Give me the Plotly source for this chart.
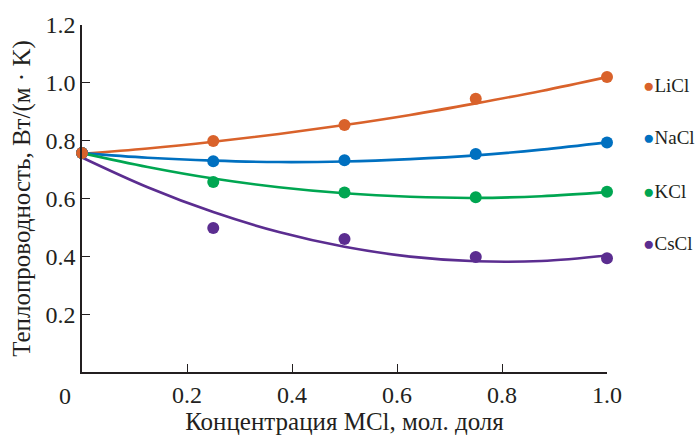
import plotly.graph_objects as go

# Data points (mole fraction of MCl)
x_pts = [0.0, 0.25, 0.5, 0.75, 1.0]
licl_pts = [0.757, 0.799, 0.854, 0.945, 1.020]
nacl_pts = [0.757, 0.729, 0.732, 0.754, 0.794]
kcl_pts = [0.757, 0.657, 0.621, 0.604, 0.623]
cscl_pts = [0.757, 0.498, 0.460, 0.398, 0.393]

# Fitted curves
x_fit = [0.0, 0.125, 0.25, 0.375, 0.5, 0.625, 0.75, 0.875, 1.0]
licl_fit = [0.755, 0.773, 0.796, 0.823, 0.854, 0.889, 0.929, 0.972, 1.020]
nacl_fit = [0.757, 0.741, 0.731, 0.726, 0.728, 0.736, 0.749, 0.769, 0.794]
kcl_fit = [0.757, 0.709, 0.669, 0.639, 0.618, 0.606, 0.602, 0.608, 0.622]
cscl_fit = [0.742, 0.639, 0.553, 0.484, 0.433, 0.399, 0.383, 0.384, 0.403]

names = ["LiCl", "NaCl", "KCl", "CsCl"]
colors = ["#D9622B", "#0070C0", "#00A651", "#5B2D90"]
pts = [licl_pts, nacl_pts, kcl_pts, cscl_pts]
fits = [licl_fit, nacl_fit, kcl_fit, cscl_fit]

x_ticks = [0.2, 0.4, 0.6, 0.8, 1.0]
y_ticks = [0.2, 0.4, 0.6, 0.8, 1.0, 1.2]

FONT = "Liberation Serif, Times New Roman, serif"
TXT = "#231F20"

fig = go.Figure()
for n, c, f in zip(names, colors, fits):
    fig.add_trace(go.Scatter(x=x_fit, y=f, mode="lines", line=dict(color=c, width=2.6, shape="spline"),
                             showlegend=False, cliponaxis=False, hoverinfo="skip"))
for n, c, p in zip(names[::-1], colors[::-1], pts[::-1]):
    fig.add_trace(go.Scatter(x=x_pts, y=p, mode="markers", name=n,
                             marker=dict(color=c, size=12), showlegend=False, cliponaxis=False))

legend_y = [84, 137, 191, 244]
for n, c, yy in zip(names, colors, legend_y):
    fig.add_annotation(xref="paper", yref="paper", x=(641 - 82) / 525, y=(374 - yy) / 351,
                       xanchor="left", yanchor="middle", showarrow=False,
                       text=f"<span style='color:{c}'>●</span>{n}",
                       font=dict(family=FONT, size=19, color=TXT))

fig.add_annotation(xref="paper", yref="paper", x=(65 - 82) / 525, y=(374 - 398) / 351,
                   xanchor="center", yanchor="middle", showarrow=False, text="0",
                   font=dict(family=FONT, size=24, color=TXT))

fig.update_layout(
    width=696, height=439,
    margin=dict(l=82, r=89, t=23, b=65),
    paper_bgcolor="white", plot_bgcolor="white",
    font=dict(family=FONT, size=24, color=TXT),
    xaxis=dict(range=[0, 1.0], tickvals=x_ticks, ticktext=["0.2", "0.4", "0.6", "0.8", "1.0"],
               ticks="inside", ticklen=8, tickwidth=1.3, tickcolor=TXT,
               tickfont=dict(family=FONT, size=24, color=TXT),
               showline=True, linecolor=TXT, linewidth=1.5, showgrid=False, zeroline=False,
               title=dict(text="Концентрация MCl, мол. доля", standoff=2,
                          font=dict(family=FONT, size=25, color=TXT))),
    yaxis=dict(range=[0, 1.2], tickvals=y_ticks, ticktext=["0.2", "0.4", "0.6", "0.8", "1.0", "1.2"],
               ticks="inside", ticklen=8, tickwidth=1.3, tickcolor=TXT,
               tickfont=dict(family=FONT, size=24, color=TXT),
               showline=True, linecolor=TXT, linewidth=1.5, showgrid=False, zeroline=False,
               title=dict(text="Теплопроводность, Вт/(м · K)", standoff=8,
                          font=dict(family=FONT, size=25, color=TXT))),
)

fig.write_html("out.html")
